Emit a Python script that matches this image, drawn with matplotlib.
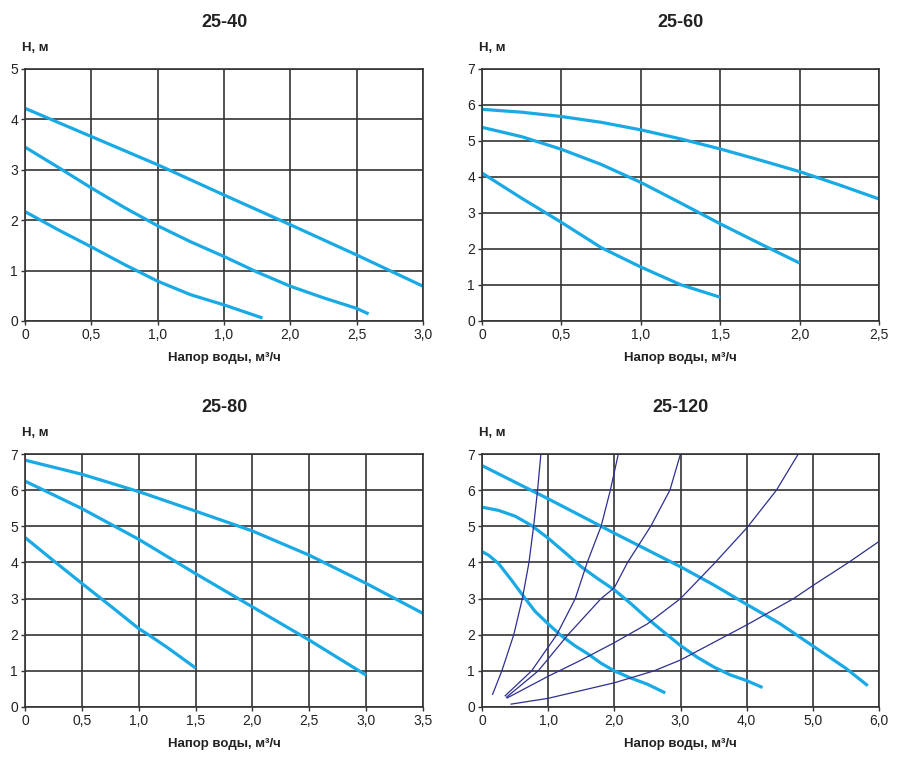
import matplotlib
matplotlib.use("Agg")
import matplotlib.pyplot as plt

plt.rcParams['font.family'] = ['Liberation Sans', 'DejaVu Sans']

# ---- data (Q in m3/h, H in m) ----
titles = ["25-40", "25-60", "25-80", "25-120"]

# 25-40
q40_top = [0, 0.5, 1.0, 1.5, 2.0, 2.5, 3.0]
h40_top = [4.22, 3.66, 3.10, 2.50, 1.91, 1.31, 0.69]
q40_mid = [0, 0.25, 0.5, 0.75, 1.0, 1.25, 1.5, 1.75, 2.0, 2.25, 2.5, 2.59]
h40_mid = [3.45, 3.05, 2.64, 2.25, 1.89, 1.57, 1.28, 0.97, 0.69, 0.46, 0.25, 0.14]
q40_bot = [0, 0.25, 0.5, 0.75, 1.0, 1.25, 1.5, 1.79]
h40_bot = [2.17, 1.81, 1.47, 1.12, 0.79, 0.52, 0.32, 0.06]
xt40 = [0, 0.5, 1.0, 1.5, 2.0, 2.5, 3.0]
xl40 = ["0", "0,5", "1,0", "1,0", "2,0", "2,5", "3,0"]

# 25-60
q60_top = [0, 0.25, 0.5, 0.75, 1.0, 1.25, 1.5, 1.75, 2.0, 2.25, 2.5]
h60_top = [5.88, 5.80, 5.68, 5.52, 5.31, 5.06, 4.78, 4.47, 4.15, 3.78, 3.39]
q60_mid = [0, 0.25, 0.5, 0.75, 1.0, 1.25, 1.5, 1.75, 2.0]
h60_mid = [5.38, 5.12, 4.77, 4.35, 3.85, 3.28, 2.70, 2.15, 1.61]
q60_bot = [0, 0.25, 0.5, 0.75, 1.0, 1.25, 1.5]
h60_bot = [4.11, 3.41, 2.74, 2.04, 1.50, 1.01, 0.66]
xt60 = [0, 0.5, 1.0, 1.5, 2.0, 2.5]
xl60 = ["0", "0,5", "1,0", "1,5", "2,0", "2,5"]

# 25-80
q80_top = [0, 0.5, 1.0, 1.5, 2.0, 2.5, 3.0, 3.5]
h80_top = [6.83, 6.44, 5.96, 5.42, 4.87, 4.20, 3.42, 2.59]
q80_mid = [0, 0.5, 1.0, 1.5, 2.0, 2.5, 3.0]
h80_mid = [6.25, 5.49, 4.64, 3.69, 2.77, 1.85, 0.88]
q80_bot = [0, 0.25, 0.5, 0.75, 1.0, 1.1, 1.25, 1.5]
h80_bot = [4.69, 4.05, 3.42, 2.80, 2.17, 1.97, 1.65, 1.08]
xt80 = [0, 0.5, 1.0, 1.5, 2.0, 2.5, 3.0, 3.5]
xl80 = ["0", "0,5", "1,0", "1,5", "2,0", "2,5", "3,0", "3,5"]

# 25-120 pump curves
q120_top = [0, 1.0, 2.0, 3.0, 3.5, 4.0, 4.5, 5.0, 5.5, 5.83]
h120_top = [6.68, 5.76, 4.81, 3.88, 3.38, 2.84, 2.31, 1.69, 1.07, 0.59]
q120_mid = [0, 0.25, 0.5, 0.75, 1.0, 1.25, 1.5, 1.75, 2.0, 2.25, 2.5,
            2.75, 3.0, 3.25, 3.5, 3.75, 4.0, 4.24]
h120_mid = [5.53, 5.44, 5.28, 5.02, 4.67, 4.28, 3.88, 3.55, 3.24, 2.86, 2.45,
            2.07, 1.70, 1.38, 1.11, 0.89, 0.73, 0.54]
q120_bot = [0, 0.1, 0.25, 0.45, 0.6, 0.8, 1.0, 1.18, 1.4, 1.6, 1.8, 2.0,
            2.25, 2.5, 2.77]
h120_bot = [4.30, 4.20, 3.97, 3.50, 3.13, 2.65, 2.30, 2.00, 1.70, 1.47, 1.21,
            1.00, 0.80, 0.63, 0.39]
# 25-120 system curves
qa = [0.16, 0.30, 0.48, 0.61, 0.71, 0.78, 0.84, 0.89]
ha = [0.35, 1.0, 2.0, 3.0, 4.0, 5.0, 6.0, 7.0]
qb = [0.35, 0.75, 1.13, 1.41, 1.59, 1.80, 1.94, 2.06]
hb = [0.31, 1.0, 2.0, 3.0, 4.0, 5.0, 6.0, 7.0]
qc = [0.37, 0.85, 1.30, 1.80, 2.0, 2.2, 2.55, 2.84, 3.0]
hc = [0.27, 1.0, 2.0, 3.0, 3.3, 4.0, 5.0, 6.0, 7.0]
qd = [0.38, 1.0, 1.5, 2.0, 2.5, 3.0, 3.5, 4.0, 4.45, 4.78]
hd = [0.25, 0.85, 1.30, 1.78, 2.30, 3.0, 3.95, 4.95, 6.0, 7.0]
qe = [0.44, 1.0, 2.0, 2.6, 3.0, 4.0, 4.71, 5.0, 5.54, 6.0]
he = [0.08, 0.24, 0.67, 1.0, 1.30, 2.27, 3.0, 3.36, 4.0, 4.58]
xt120 = [0, 1, 2, 3, 4, 5, 6]
xl120 = ["0", "1,0", "2,0", "3,0", "4,0", "5,0", "6,0"]

BLUE = "#19aae5"
NAVY = "#2e2f8f"
GRID = "#333333"

fig = plt.figure(figsize=(9, 7.63), dpi=100)

# axes boxes in pixels: left, top, right, bottom
boxes = [(25, 69, 423, 321), (482, 69, 879, 321),
         (25, 454, 423, 707), (482, 454, 879, 707)]
axes = []
for (l, t, r, b) in boxes:
    axes.append(fig.add_axes([l / 900, 1 - b / 763, (r - l) / 900, (b - t) / 763]))

panels = [
    (xt40, xl40, 5, [(q40_top, h40_top), (q40_mid, h40_mid), (q40_bot, h40_bot)]),
    (xt60, xl60, 7, [(q60_top, h60_top), (q60_mid, h60_mid), (q60_bot, h60_bot)]),
    (xt80, xl80, 7, [(q80_top, h80_top), (q80_mid, h80_mid), (q80_bot, h80_bot)]),
    (xt120, xl120, 7, [(q120_top, h120_top), (q120_mid, h120_mid), (q120_bot, h120_bot)]),
]

for ax, title, (xt, xl, ymax, curves) in zip(axes, titles, panels):
    ax.set_xlim(xt[0], xt[-1])
    ax.set_ylim(0, ymax)
    ax.set_xticks(xt)
    ax.set_xticklabels(xl)
    ax.set_yticks(range(0, ymax + 1))
    ax.grid(True, color=GRID, linewidth=1.2)
    ax.set_axisbelow(True)
    for s in ax.spines.values():
        s.set_color(GRID)
        s.set_linewidth(1.2)
    ax.tick_params(length=3, width=1, color=GRID, labelsize=10,
                   labelcolor="#222222", pad=2)
    for q, h in curves:
        ax.plot(q, h, color=BLUE, linewidth=2.3, solid_capstyle="butt",
                solid_joinstyle="round")
    ax.set_title(title, fontsize=13, fontweight="bold", pad=30, color="#222222")
    ax.set_xlabel("Напор воды, м³/ч", fontsize=9.5, fontweight="bold",
                  labelpad=7, color="#222222")
    ax.text(-0.008, 1.083, "Н, м", transform=ax.transAxes, fontsize=9.5,
            fontweight="bold", ha="left", va="center", color="#222222")

ax4 = axes[3]
for q, h in [(qa, ha), (qb, hb), (qc, hc), (qd, hd), (qe, he)]:
    ax4.plot(q, h, color=NAVY, linewidth=0.9, solid_joinstyle="round")

fig.savefig("out.png", dpi=100, facecolor="white")
